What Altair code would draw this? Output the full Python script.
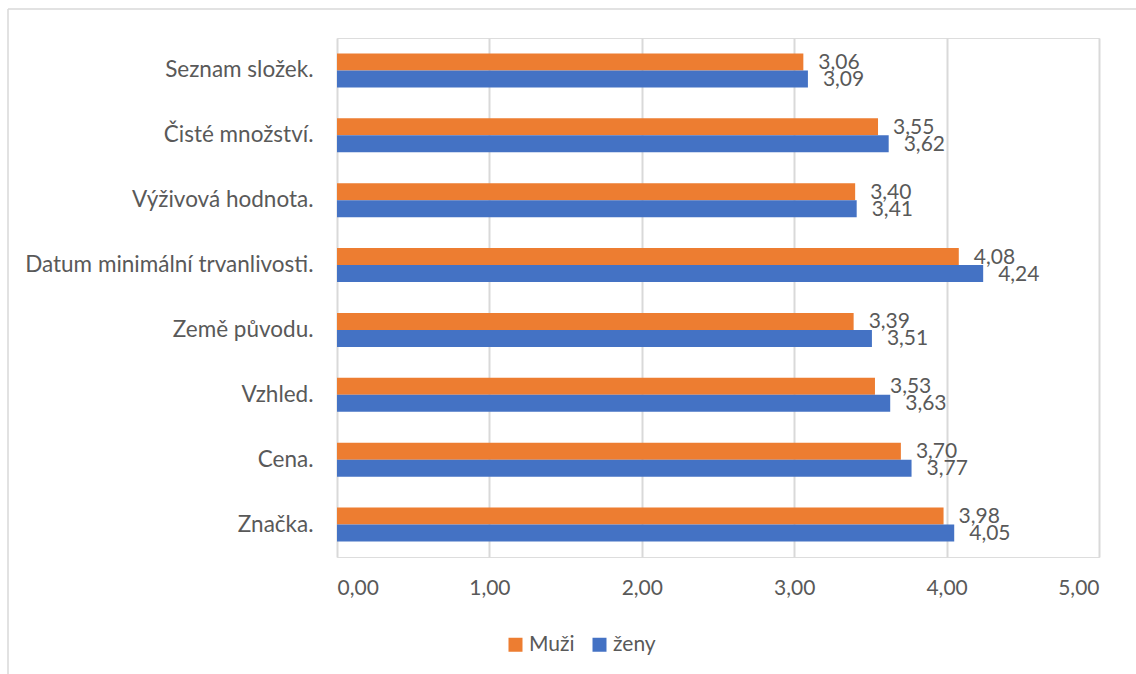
import altair as alt
import pandas as pd

categories = ["Seznam složek.", "Čisté množství.", "Výživová hodnota.",
              "Datum minimální trvanlivosti.", "Země původu.", "Vzhled.",
              "Cena.", "Značka."]
muzi = [3.06, 3.55, 3.40, 4.08, 3.39, 3.53, 3.70, 3.98]
zeny = [3.09, 3.62, 3.41, 4.24, 3.51, 3.63, 3.77, 4.05]
series = ["Muži", "ženy"]
colors = ["#ED7D31", "#4472C4"]
x_ticks = [0, 1, 2, 3, 4, 5]

rows = []
for c, m, z in zip(categories, muzi, zeny):
    rows.append({"cat": c, "series": "Muži", "value": m})
    rows.append({"cat": c, "series": "ženy", "value": z})
df = pd.DataFrame(rows)
df["label"] = df["value"].map(lambda v: f"{v:.2f}".replace(".", ","))

FONT = "Lato"
TXT = "#595959"
FS = 21

y_enc = alt.Y("cat:N", sort=categories,
              scale=alt.Scale(paddingInner=0, paddingOuter=0),
              axis=alt.Axis(title=None, ticks=False, domain=False, grid=False,
                            labelPadding=24, labelFontSize=22.5, labelFont=FONT,
                            labelColor=TXT, labelLimit=400))
yoff = alt.YOffset("series:N", sort=series,
                   scale=alt.Scale(paddingInner=0, paddingOuter=0.91))
x_enc = alt.X("value:Q", scale=alt.Scale(domain=[0, 5], nice=False),
              axis=alt.Axis(title=None, values=x_ticks, ticks=False, domain=False,
                            grid=True, gridColor="#d9d9d9", gridWidth=2,
                            labelPadding=20, labelFontSize=FS, labelFont=FONT,
                            labelColor=TXT,
                            labelExpr="replace(format(datum.value, '.2f'), '.', ',')"))

base = alt.Chart(df)

bars = base.mark_bar().encode(
    x=x_enc, y=y_enc, yOffset=yoff,
    color=alt.Color("series:N", sort=series,
                    scale=alt.Scale(domain=series, range=colors),
                    legend=alt.Legend(orient="none", legendX=168, legendY=596,
                                      direction="horizontal", title=None,
                                      symbolType="square", symbolSize=196,
                                      symbolStrokeWidth=0, labelFontSize=FS,
                                      labelFont=FONT, labelColor=TXT,
                                      columnPadding=14, labelOffset=3))
)

labels = base.mark_text(align="left", baseline="middle", dx=15, dy=1,
                        fontSize=FS, font=FONT, color=TXT).encode(
    x="value:Q", y=alt.Y("cat:N", sort=categories), yOffset=alt.YOffset("series:N", sort=series),
    text="label:N"
)

frame_df = pd.DataFrame({"a": [0]})
top_line = alt.Chart(frame_df).mark_rule(color="#d9d9d9", strokeWidth=1.5).encode(
    x=alt.value(-329), x2=alt.value(800), y=alt.value(-29))
left_line = alt.Chart(frame_df).mark_rule(color="#d9d9d9", strokeWidth=1.5).encode(
    x=alt.value(-329), y=alt.value(-29), y2=alt.value(640))

chart = alt.layer(bars, labels, top_line, left_line).properties(
    width=762, height=519,
    autosize=alt.AutoSizeParams(type="none"),
    padding={"left": 337, "top": 38, "right": 37, "bottom": 117},
).configure_view(stroke=None).configure(background="white")

chart.save("out.html", embed_options={"renderer": "svg", "actions": False})
